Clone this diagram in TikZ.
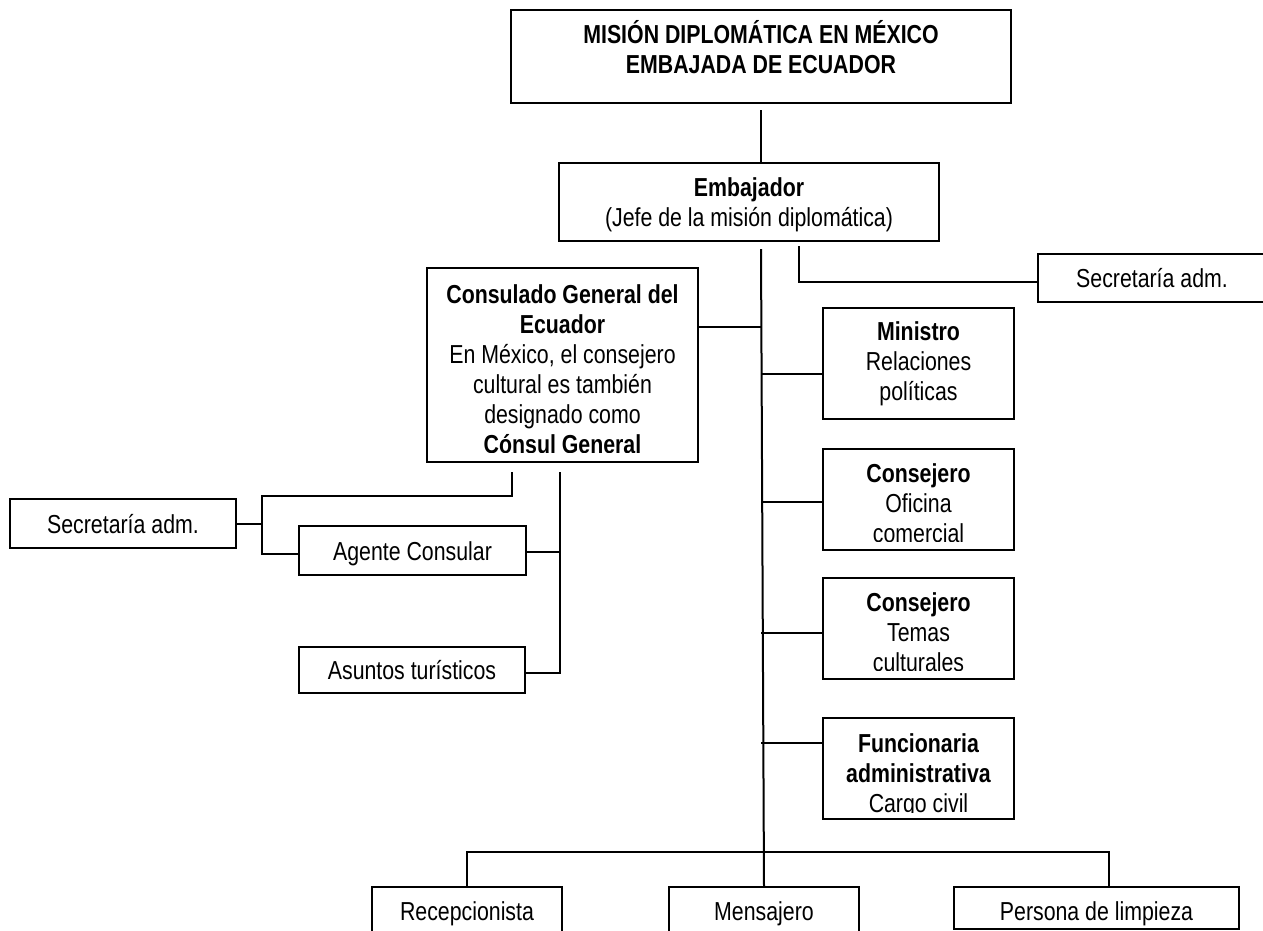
\documentclass[tikz,border=0pt]{standalone}
\usepackage{fontspec}
\setmainfont{Liberation Sans}[FakeStretch=0.82]
\usetikzlibrary{positioning}
\begin{document}
\begin{tikzpicture}[x=1pt,y=-1pt,
  boxnode/.style={draw=black, line width=2pt, inner sep=0pt, outer sep=0pt, anchor=north west},
  txt/.style={inner sep=0pt, outer sep=0pt, align=center, anchor=north,
    font=\fontsize{26}{30}\selectfont},
  conn/.style={draw=black, line width=2pt}]
\newcommand{\fst}{\rule{0pt}{25pt}}
\useasboundingbox (0,0) rectangle (1263,930);
\fill[white] (0,0) rectangle (1263,930);

% boxes
\node[boxnode, minimum width=500pt, minimum height=93pt] (mision) at (511,10) {};
\node[boxnode, minimum width=380pt, minimum height=78pt] (emb) at (559,163) {};
\node[boxnode, minimum width=240pt, minimum height=48pt] (secR) at (1038,254) {};
\node[boxnode, minimum width=271pt, minimum height=194pt] (cons) at (427,268) {};
\node[boxnode, minimum width=191pt, minimum height=111pt] (min) at (823,308) {};
\node[boxnode, minimum width=191pt, minimum height=101pt] (cj1) at (823,449) {};
\node[boxnode, minimum width=191pt, minimum height=101pt] (cj2) at (823,578) {};
\node[boxnode, minimum width=191pt, minimum height=101pt] (fun) at (823,718) {};
\node[boxnode, minimum width=226pt, minimum height=49pt] (secL) at (10,499) {};
\node[boxnode, minimum width=227pt, minimum height=49pt] (agente) at (299,526) {};
\node[boxnode, minimum width=226pt, minimum height=46pt] (asuntos) at (299,647) {};
\node[boxnode, minimum width=190pt, minimum height=70pt] (recep) at (372,887) {};
\node[boxnode, minimum width=190pt, minimum height=70pt] (mens) at (669,887) {};
\node[boxnode, minimum width=285pt, minimum height=42pt] (pers) at (954,887) {};

% texts
\node[txt] (tmision) at (761,18) {\fst\textbf{MISIÓN DIPLOMÁTICA EN MÉXICO}\\\textbf{EMBAJADA DE ECUADOR}};
\node[txt] (temb) at (749,171) {\fst\textbf{Embajador}\\(Jefe de la misión diplomática)};
\node[txt] (tsecR) at (1152,262) {\fst Secretaría adm.};
\begin{scope}
  \clip (427,268) rectangle (698,452.5);
  \node[txt] (tcons) at (562.5,278) {\fst\textbf{Consulado General del}\\\textbf{Ecuador}\\En México, el consejero\\cultural es también\\designado como\\\textbf{Cónsul General}};
\end{scope}
\node[txt] (tmin) at (918.5,315) {\fst\textbf{Ministro}\\Relaciones\\políticas};
\begin{scope}
  \clip (823,449) rectangle (1014,541);
  \node[txt] (tcj1) at (918.5,457) {\fst\textbf{Consejero}\\Oficina\\comercial};
\end{scope}
\begin{scope}
  \clip (823,578) rectangle (1014,670);
  \node[txt] (tcj2) at (918.5,586) {\fst\textbf{Consejero}\\Temas\\culturales};
\end{scope}
\begin{scope}
  \clip (823,718) rectangle (1014,812.5);
  \node[txt] (tfun) at (918.5,727) {\fst\textbf{Funcionaria}\\\textbf{administrativa}\\Cargo civil};
\end{scope}
\node[txt] (tsecL) at (123,508) {\fst Secretaría adm.};
\node[txt] (tagente) at (412.5,535) {\fst Agente Consular};
\node[txt] (tasuntos) at (412,654) {\fst Asuntos turísticos};
\node[txt] (trecep) at (467,895) {\fst Recepcionista};
\node[txt] (tmens) at (764,895) {\fst Mensajero};
\node[txt] (tpers) at (1096.5,895) {\fst Persona de limpieza};

% connectors
\coordinate (mtop) at ([yshift=-7pt]mision.south);
\draw[conn] (mtop) -- (mtop |- emb.north);
\coordinate (tk) at ([yshift=-8pt]emb.south -| mision.south);
\draw[conn] (tk) -- (mens.north);
\coordinate (sa) at ([xshift=50pt,yshift=-5pt]emb.south);
\draw[conn] (sa) |- ([yshift=-4pt]secR.west);

\coordinate (c1) at ([yshift=38pt]cons.east);
\draw[conn] (c1) -- (c1 -| tk);
\coordinate (m1) at ([yshift=-10.5pt]min.west);
\draw[conn] (m1) -- (m1 -| tk);
\coordinate (m2) at ([yshift=-2.5pt]cj1.west);
\draw[conn] (m2) -- (m2 -| tk);
\coordinate (m3) at ([yshift=-4.5pt]cj2.west);
\draw[conn] (m3) -- (m3 -| tk);
\coordinate (m4) at ([yshift=25.5pt]fun.west);
\draw[conn] (m4) -- (m4 -| tk);

\coordinate (pd) at ([xshift=12.5pt]pers.north);
\draw[conn] (recep.north) -- ++(0,-35) -| (pd);

\coordinate (cl) at ([xshift=-50.5pt,yshift=-10pt]cons.south);
\coordinate (lj) at ([xshift=-300.5pt,yshift=-34pt]cons.south);
\draw[conn] (cl) |- (lj) |- ([yshift=-3.5pt]agente.west);
\draw[conn] (secL.east) -- (secL.east -| lj);
\coordinate (cr) at ([xshift=-2.5pt,yshift=-10pt]cons.south);
\draw[conn] (cr) |- ([yshift=-3pt]asuntos.east);
\coordinate (ag) at ([yshift=-1.5pt]agente.east);
\draw[conn] (ag) -- (ag -| cr);
\end{tikzpicture}
\end{document}
